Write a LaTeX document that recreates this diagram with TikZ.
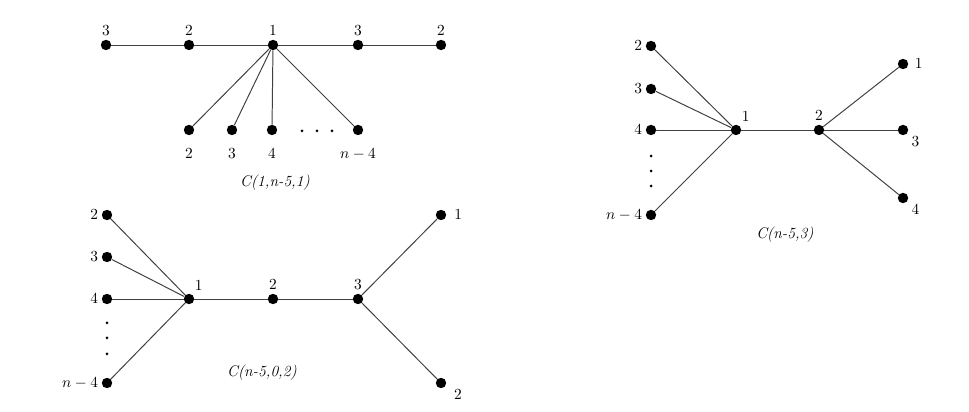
\documentclass[tikz,border=0pt]{standalone}
\usepackage{amsmath}
\usepackage{tikz}
\usetikzlibrary{positioning}

\begin{document}
\begin{tikzpicture}[
x=0.025cm, y=-0.025cm,
font=\fontsize{11}{13}\selectfont,
vert/.style={circle, fill=black, inner sep=0pt, minimum size=7.4pt},
edge/.style={draw=black!75, line width=0.7pt},
gname/.style={font=\fontsize{11}{13}\selectfont\itshape},
label distance=-1pt
]
\useasboundingbox (0,0) rectangle (969,412);

% C(1,n-5,1)
\node[vert, label=above:$3$] (a3) at (106,45) {};
\node[vert, label=above:$2$] (a2) at (189,45) {};
\node[vert, label=above:$1$] (a1) at (273,45) {};
\node[vert, label=above:$3$] (b3) at (358,45) {};
\node[vert, label=above:$2$] (b2) at (441,45) {};
\node[vert, label={[label distance=6pt]below:$2$}] (l2) at (189,130) {};
\node[vert, label={[label distance=6pt]below:$3$}] (l3) at (232,130) {};
\node[vert, label={[label distance=6pt]below:$4$}] (l4) at (272,130) {};
\node[vert, label={[label distance=6pt]below:$n-4$}] (ln) at (358,130) {};
\foreach \x in {302,317,332}
  \fill (\x,131) circle (1.5);
\node[gname] (name1) at (275,183) {C(1,n-5,1)};

\draw[edge] (a3) -- (a2) -- (a1) -- (b3) -- (b2);
\foreach \v in {l2,l3,l4,ln}
  \draw[edge] (a1) -- (\v);

% C(n-5,0,2)
\node[vert, label=left:$2$] (p2) at (107,215) {};
\node[vert, label=left:$3$] (p3) at (107,257) {};
\node[vert, label=left:$4$] (p4) at (107,299) {};
\node[vert, label=left:$n-4$] (pn) at (107,383) {};
\foreach \y in {323,338,354}
  \fill (107,\y) circle (1.5);
\node[vert, label=78:$1$] (q1) at (189,299) {};
\node[vert, label=above:$2$] (q2) at (273,299) {};
\node[vert, label=above:$3$] (q3) at (358,299) {};
\node[vert, label={[label distance=2pt]right:$1$}] (r1) at (441,215) {};
\node[vert, label={[label distance=2pt]-8:$2$}] (r2) at (441,383) {};
\node[gname] (name2) at (262,373) {C(n-5,0,2)};

\foreach \v in {p2,p3,p4,pn}
  \draw[edge] (\v) -- (q1);
\draw[edge] (q1) -- (q2) -- (q3);
\draw[edge] (q3) -- (r1);
\draw[edge] (q3) -- (r2);

% C(n-5,3)
\node[vert, label=left:$2$] (s2) at (651,46) {};
\node[vert, label=left:$3$] (s3) at (651,89) {};
\node[vert, label=left:$4$] (s4) at (651,130) {};
\node[vert, label=left:$n-4$] (sn) at (651,215) {};
\foreach \y in {156,171,186}
  \fill (651,\y) circle (1.5);
\node[vert, label=78:$1$] (t1) at (736,130) {};
\node[vert, label=above:$2$] (t2) at (819,130) {};
\node[vert, label={[label distance=1pt]right:$1$}] (u1) at (903,64) {};
\node[vert, label=-30:$3$] (u3) at (903,130) {};
\node[vert, label=-30:$4$] (u4) at (903,198) {};
\node[gname] (name3) at (785,235) {C(n-5,3)};

\foreach \v in {s2,s3,s4,sn}
  \draw[edge] (\v) -- (t1);
\draw[edge] (t1) -- (t2);
\foreach \v in {u1,u3,u4}
  \draw[edge] (t2) -- (\v);

\end{tikzpicture}
\end{document}
